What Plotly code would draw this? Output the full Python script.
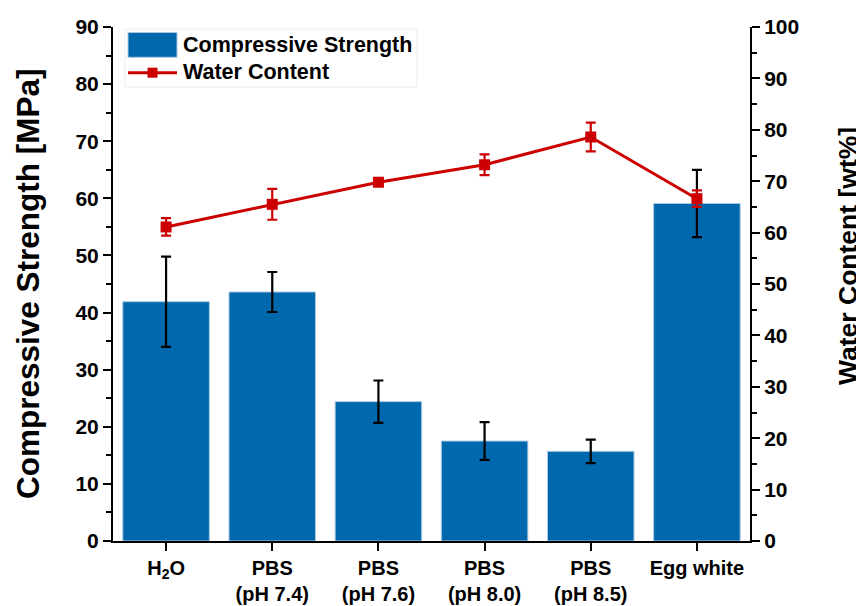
import plotly.graph_objects as go

categories = ["H<sub>2</sub>O", "PBS<br>(pH 7.4)", "PBS<br>(pH 7.6)", "PBS<br>(pH 8.0)", "PBS<br>(pH 8.5)", "Egg white"]
strength = [41.9, 43.6, 24.4, 17.5, 15.7, 59.1]
strength_err = [7.9, 3.5, 3.7, 3.3, 2.05, 5.9]
water = [61.1, 65.5, 69.8, 73.2, 78.6, 66.6]
water_err = [1.7, 3.0, 0.5, 2.0, 2.8, 1.6]
left_ticks = list(range(0, 91, 10))
right_ticks = list(range(0, 101, 10))

BLUE = "rgb(0,104,173)"
RED = "rgb(204,0,0)"
FONT = "Liberation Sans, Arial, sans-serif"

# The page body has an 8px default margin, so the figure is drawn 8px in from the corner.
OFF = 8
SW, SH = 864, 606            # screenshot size
L, T = 113, 27               # plot area left/top in screenshot pixels
PW, PH = 637, 514            # plot area size
W, H = SW - OFF, SH - OFF    # figure size
ML, MT = L - OFF, T - OFF
MR = W - ML - PW
MB = H - MT - PH


def px(x):
    return (x - L) / PW


def py(y):
    return (T + PH - y) / PH


fig = go.Figure()
fig.add_trace(go.Bar(
    x=list(range(len(categories))), y=strength, name="Compressive Strength",
    width=0.815,
    marker=dict(color=BLUE, line=dict(color="rgb(170,200,225)", width=1)),
    error_y=dict(type="data", array=strength_err, color="black", thickness=2.2, width=5),
    showlegend=False,
))
fig.add_trace(go.Scatter(
    x=list(range(len(categories))), y=water, name="Water Content", yaxis="y2",
    mode="lines+markers",
    line=dict(color=RED, width=3),
    marker=dict(symbol="square", size=11, color=RED),
    error_y=dict(type="data", array=water_err, color=RED, thickness=2.2, width=5),
    showlegend=False,
))

shapes = [
    dict(type="rect", xref="paper", yref="paper", x0=px(125), x1=px(417), y0=py(87), y1=py(29),
         line=dict(color="rgb(236,236,236)", width=1), fillcolor="white", layer="above"),
    dict(type="rect", xref="paper", yref="paper", x0=px(128), x1=px(177), y0=py(57.3), y1=py(32.5),
         line=dict(color="rgb(170,200,225)", width=1), fillcolor=BLUE, layer="above"),
    dict(type="line", xref="paper", yref="paper", x0=px(128), x1=px(177), y0=py(72.7), y1=py(72.7),
         line=dict(color=RED, width=3), layer="above"),
    dict(type="rect", xref="paper", yref="paper", x0=px(147.5), x1=px(157.5), y0=py(77.7), y1=py(67.7),
         line=dict(color=RED, width=0), fillcolor=RED, layer="above"),
]

annotations = [
    dict(text="<b>Compressive Strength</b>", xref="paper", yref="paper", x=px(181), y=py(44.5),
         xanchor="left", yanchor="middle", showarrow=False, font=dict(family=FONT, size=21.5, color="black")),
    dict(text="<b>Water Content</b>", xref="paper", yref="paper", x=px(181), y=py(72),
         xanchor="left", yanchor="middle", showarrow=False, font=dict(family=FONT, size=21.5, color="black")),
    dict(text="<b>Compressive Strength [MPa]</b>", xref="paper", yref="paper", x=px(28), y=py(284),
         xanchor="center", yanchor="middle", textangle=-90, showarrow=False,
         font=dict(family=FONT, size=31.5, color="black")),
    dict(text="<b>Water Content [wt%]</b>", xref="paper", yref="paper", x=px(848), y=py(256),
         xanchor="center", yanchor="middle", textangle=-90, showarrow=False,
         font=dict(family=FONT, size=26.5, color="black")),
]

fig.update_layout(
    width=W, height=H,
    margin=dict(l=ML, r=MR, t=MT, b=MB),
    plot_bgcolor="white", paper_bgcolor="white",
    font=dict(family=FONT, color="black", size=20),
    showlegend=False,
    shapes=shapes,
    annotations=annotations,
    xaxis=dict(
        tickmode="array", tickvals=list(range(len(categories))), ticktext=categories,
        range=[-0.5, 5.5], showline=True, linecolor="black", linewidth=2,
        ticks="outside", ticklen=8, tickwidth=2, tickcolor="black",
        tickfont=dict(family=FONT, size=20, weight="bold"),
        showgrid=False, zeroline=False, automargin=False,
    ),
    yaxis=dict(
        range=[0, 90], tickmode="array", tickvals=left_ticks,
        showline=True, linecolor="black", linewidth=2,
        ticks="outside", ticklen=8, tickwidth=2, tickcolor="black",
        minor=dict(dtick=5, ticks="outside", ticklen=5, tickwidth=2, tickcolor="black", showgrid=False),
        tickfont=dict(family=FONT, size=21, weight="bold"),
        showgrid=False, zeroline=False, automargin=False,
    ),
    yaxis2=dict(
        range=[0, 100], tickmode="array", tickvals=right_ticks, overlaying="y", side="right",
        showline=True, linecolor="black", linewidth=2,
        ticks="outside", ticklen=8, tickwidth=2, tickcolor="black",
        minor=dict(dtick=5, ticks="outside", ticklen=5, tickwidth=2, tickcolor="black", showgrid=False),
        tickfont=dict(family=FONT, size=21, weight="bold"),
        showgrid=False, zeroline=False, automargin=False,
    ),
)

fig.write_html("out.html")
